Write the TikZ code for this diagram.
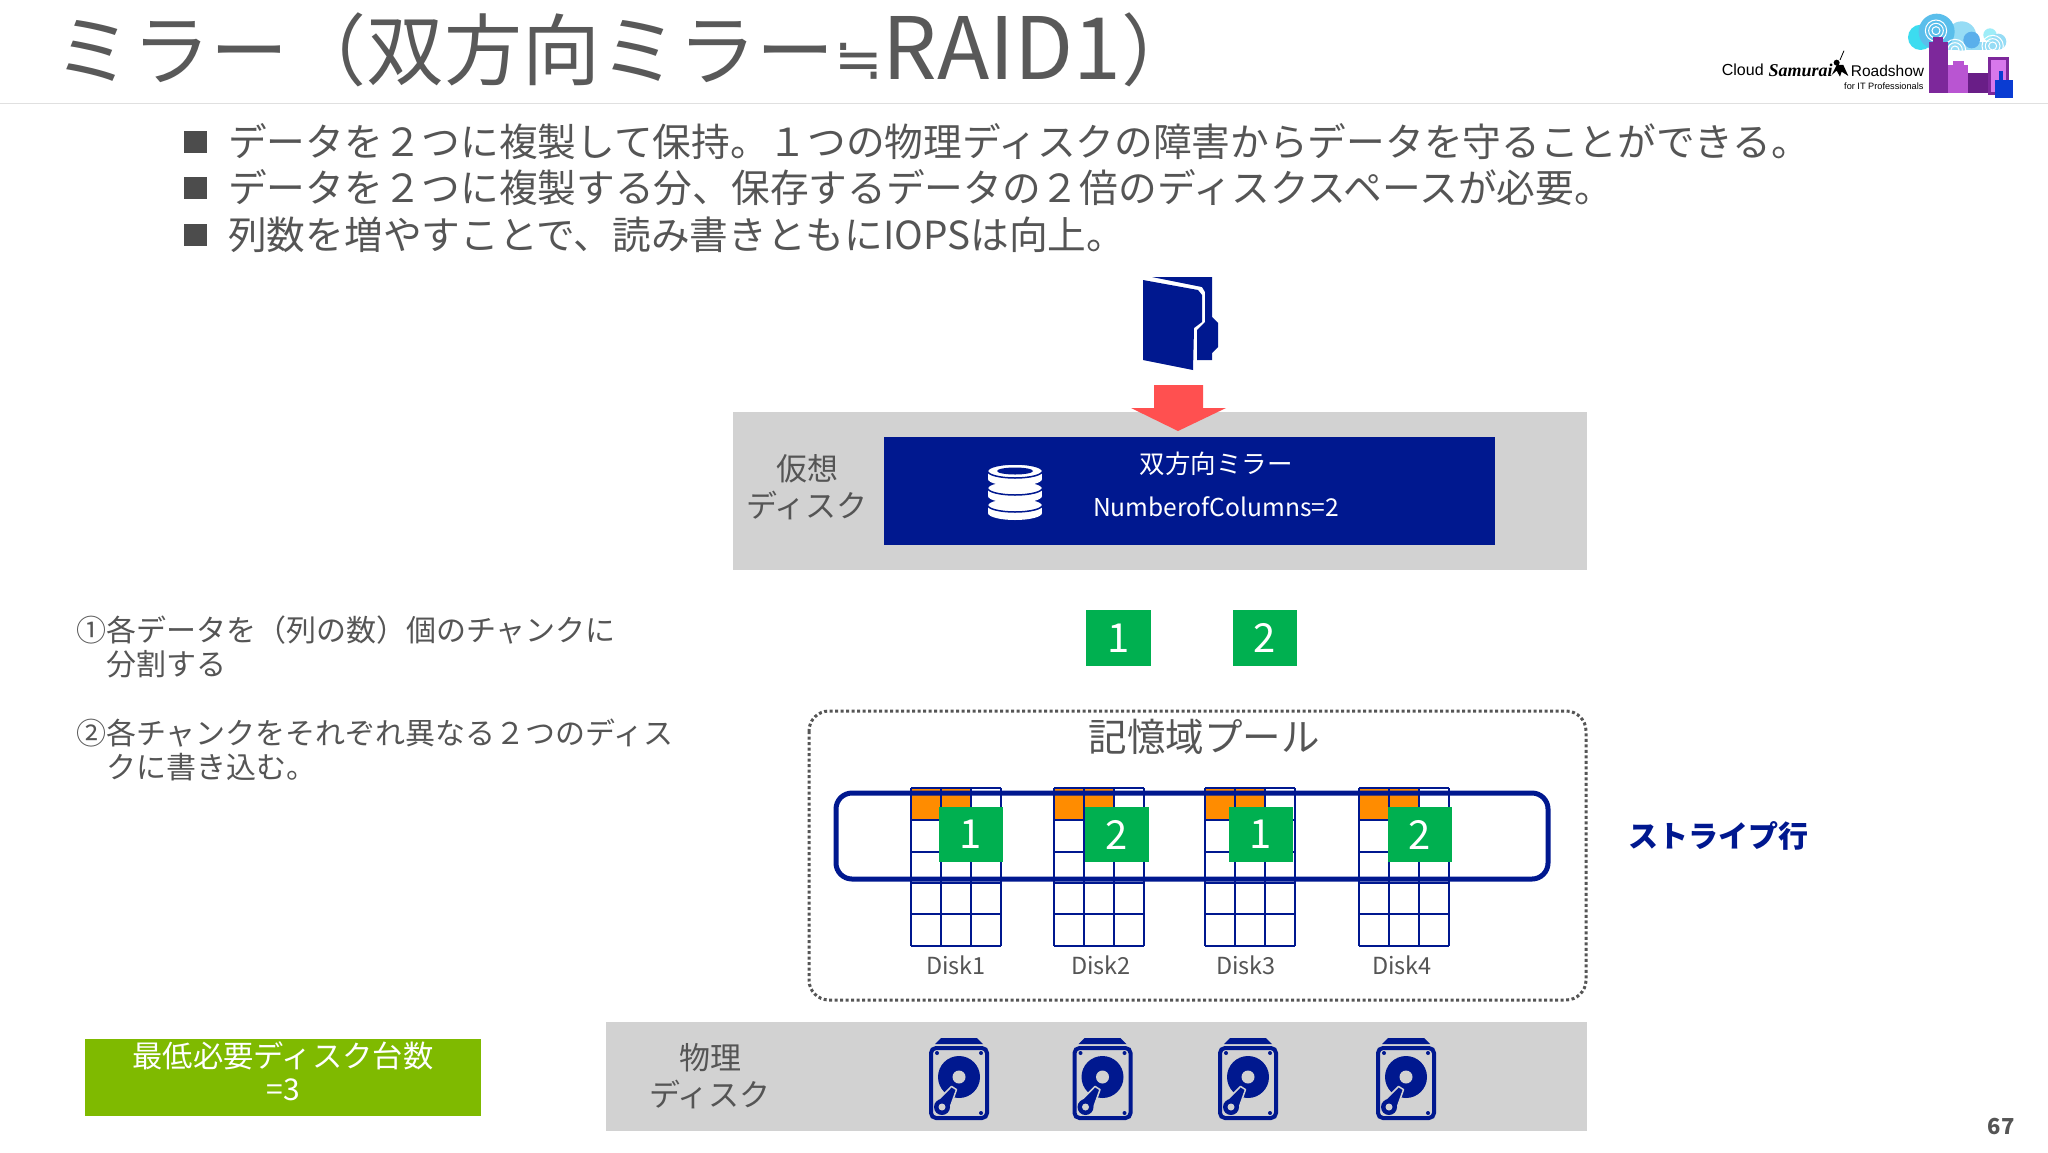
\documentclass[tikz,border=0pt]{standalone}
\usepackage{fontspec}
\usetikzlibrary{positioning}
\setmainfont{Noto Sans CJK JP}
\newfontfamily\latinfont{Liberation Sans}
\newfontfamily\brushfont{Liberation Serif}
\newfontfamily\symbolfont{DejaVu Sans}
\newcommand{\tamano}[1]{\fontsize{#1}{#1}\selectfont}
\definecolor{azulraid}{RGB}{0,24,143}
\definecolor{grisbanda}{RGB}{210,210,210}
\definecolor{tinta}{RGB}{85,85,85}
\definecolor{verdechunk}{RGB}{0,176,80}
\definecolor{verdecaja}{RGB}{127,186,0}
\definecolor{naranja}{RGB}{255,140,0}
\definecolor{rojoflecha}{RGB}{255,80,80}
\definecolor{nubecian}{RGB}{60,220,240}
\definecolor{nubeazul}{RGB}{90,190,235}
\definecolor{nubeclara}{RGB}{150,220,245}
\definecolor{nubemedia}{RGB}{90,175,235}
\definecolor{torre}{RGB}{125,40,155}
\definecolor{edificio}{RGB}{185,85,210}
\definecolor{bloque}{RGB}{105,30,135}
\definecolor{pantalla}{RGB}{215,120,235}
\definecolor{mano}{RGB}{10,60,210}
\tikzset{
	bullettext/.style={anchor=west, inner sep=0pt, tinta, font=\tamano{38.7}},
	notetext/.style={anchor=west, inner sep=0pt, tinta, font=\tamano{30}},
	bandtext/.style={inner sep=0pt, tinta, font=\tamano{31}},
	disklabel/.style={inner sep=0pt, tinta, font=\tamano{23.5}},
	chunk/.style={fill=verdechunk, text=white, inner sep=0pt, font=\tamano{40}},
	pics/hdd/.style={code={
		\fill [azulraid] (-18,-39) -- (18,-39) -- (24,-33) -- (-24,-33) -- cycle;
		\draw [azulraid, line width=4, rounded corners=5] (-28,-29) rectangle (28,41);
		\fill [azulraid] (0,0) circle [radius=21];
		\fill [grisbanda] (0,0) circle [radius=6.5];
		\fill [azulraid] (-22,-24) circle [radius=2];
		\fill [azulraid] (22,-24) circle [radius=2];
		\fill [azulraid] (22,36) circle [radius=2];
		\draw [grisbanda, fill=azulraid, line width=1.5, line join=round] (-7.5,9.4) -- (-2.5,12.6) -- (-10.2,34.2) -- (-23.8,25.8) -- cycle;
		\fill [azulraid] (-17,30) circle [radius=8];
		\fill [grisbanda] (-17,30) circle [radius=3.5];
	}},
}

\begin{document}
\begin{tikzpicture}[x=1pt, y=-1pt]
	\useasboundingbox (0,0) rectangle (2048,1152);
	\fill [white] (0,0) rectangle (2048,1152);

	% header
	\node [anchor=west, inner sep=0pt, text={rgb,255:red,89;green,89;blue,89}, font=\tamano{78}] (title) at (54,50) {ミラー（双方向ミラー{\symbolfont\tamano{58}≒}{\tamano{86}RAID1}）};
	\draw [black!12, line width=1.5] (0,103.5) -- (2048,103.5);

	% logo
	\begin{scope}[shift={(1680,0)}, x=0.3333pt, y=-0.3333pt]
		\fill [nubecian] (722,112) circle [radius=38];
		\fill [nubeclara] (845,108) circle [radius=44];
		\fill [nubeclara] (800,125) rectangle (960,150);
		\fill [nubeazul] (770,95) circle [radius=54];
		\fill [nubemedia] (875,120) circle [radius=25];
		\fill [nubecian!50!white] (930,105) circle [radius=20];
		\fill [nubeclara] (955,125) circle [radius=24];
		\foreach \r in {12,22,32} {
			\draw [white, line width=1] (768,92) circle [radius=\r];
			\draw [white, line width=1] (825,150) circle [radius=\r];
			\draw [white, line width=1] (938,138) circle [radius=\r];
		}
		\fill [torre] (748,125) rectangle (803,280);
		\fill [torre] (760,110) rectangle (790,125);
		\fill [edificio] (805,195) rectangle (865,280);
		\fill [edificio] (818,182) rectangle (852,195);
		\fill [bloque] (865,218) rectangle (925,280);
		\draw [torre, fill=pantalla, line width=3] (929,177) rectangle (982,280);
		\fill [mano] (958,212) rectangle (970,295);
		\fill [mano] (945,240) rectangle (1000,295);
		\node [anchor=west, inner sep=0pt, black, font=\latinfont\tamano{16}] (logocloud) at (125,210) {Cloud};
		\node [anchor=west, inner sep=0pt, black, font=\brushfont\bfseries\itshape\tamano{18}] (logosamurai) at (265,210) {Samurai};
		\node [anchor=west, inner sep=0pt, black, font=\latinfont\tamano{15.5}] (logoroad) at (512,212) {Roadshow};
		\node [anchor=east, inner sep=0pt, black, font=\latinfont\tamano{9.2}] (logoit) at (731,258) {for IT Professionals};
		% figure
		\fill [black] (470,188) circle [radius=9];
		\fill [black] (455,225) -- (470,195) -- (490,195) -- (505,228) -- (485,215) -- (480,230) -- (470,212) -- cycle;
		\draw [black, line width=0.8] (480,180) -- (492,152);
	\end{scope}

	% bullets
	\foreach \y in {142,188,235} {
		\fill [black!70] (184,\y-11) rectangle (207,\y+11);
	}
	\node [bullettext] (line1) at (228,142) {データを２つに複製して保持。１つの物理ディスクの障害からデータを守ることができる。};
	\node [bullettext] (line2) at (228,188) {データを２つに複製する分、保存するデータの２倍のディスクスペースが必要。};
	\node [bullettext] (line3) at (228,235) {列数を増やすことで、読み書きともにIOPSは向上。};

	% folder
	\fill [azulraid] (1143,280) -- (1198,290) -- (1202,295) -- (1202,322) -- (1194,328) -- (1193,370) -- (1143,360) -- cycle;
	\fill [azulraid] (1152,277) -- (1212,277) -- (1212,317) -- (1218,323) -- (1218,347) -- (1212,353) -- (1212,360) -- (1197,360) -- (1197,330) -- (1205,322) -- (1205,292) -- (1202,287) -- cycle;

	% virtual disk
	\fill [grisbanda] (733,412) rectangle (1587,570);
	\fill [azulraid] (884,437) rectangle (1495,545);
	\fill [rojoflecha] (1154,385) -- (1203,385) -- (1203,408) -- (1226,408) -- (1178,431) -- (1131,408) -- (1154,408) -- cycle;
	\node [bandtext] (virt1) at (807,469) {仮想};
	\node [bandtext] (virt2) at (807,505) {ディスク};
	\node [inner sep=0pt, white, font=\tamano{25.5}] (mirror) at (1216,464) {双方向ミラー};
	\node [inner sep=0pt, white, font=\tamano{24.6}] (columns) at (1216,507) {NumberofColumns=2};
	% database icon
	\foreach \y in {498,481,464} {
		\fill [white] (1015,\y+15) ellipse [x radius=27, y radius=7];
		\fill [white] (988,\y+7) rectangle (1042,\y+15);
		\draw [azulraid, line width=1.5, fill=white] (1015,\y+7) ellipse [x radius=27.5, y radius=7];
	}
	\fill [azulraid] (1015,471) ellipse [x radius=18, y radius=3.5];

	% chunks
	\node [chunk, minimum width=65, minimum height=56] (chunkone) at (1118.5,638) {1};
	\node [chunk, minimum width=64, minimum height=56] (chunktwo) at (1265,638) {2};

	% notes
	\node [notetext] (note1) at (76,630) {①各データを（列の数）個のチャンクに};
	\node [notetext] (note1b) at (106,664) {分割する};
	\node [notetext] (note2) at (76,733) {②各チャンクをそれぞれ異なる２つのディス};
	\node [notetext] (note2b) at (106,767) {クに書き込む。};

	% pool
	\draw [tinta, line width=3, dash pattern=on 3pt off 2.5pt, rounded corners=20] (809,711) rectangle (1586,1000);
	\node [inner sep=0pt, tinta, font=\tamano{38.5}] (pool) at (1204,737) {記憶域プール};

	\foreach \x/\name/\cx/\num/\lx in {911/1/971/1/956, 1054/2/1117/2/1101, 1205/3/1261/1/1246, 1359/4/1420/2/1402} {
		\fill [naranja] (\x,788) rectangle (\x+60,820);
		\foreach \c in {0,30,60,90} {
			\draw [azulraid, line width=1.6] (\x+\c,788) -- (\x+\c,946);
		}
		\foreach \r in {788,820,852,883,914,946} {
			\draw [azulraid, line width=1.6] (\x,\r) -- (\x+90,\r);
		}
		\node [chunk, minimum width=64, minimum height=55] (disk\name chunk) at (\cx,834.5) {\num};
		\node [disklabel] (disk\name) at (\lx,965) {Disk\name};
	}
	\draw [azulraid, line width=5, rounded corners=16] (836,793) rectangle (1548,879);
	\node [anchor=west, inner sep=0pt, azulraid, font=\bfseries\tamano{30}] (stripe) at (1628,836) {ストライプ行};

	% physical disks
	\fill [grisbanda] (606,1022) rectangle (1587,1131);
	\node [bandtext] (phys1) at (710,1058) {物理};
	\node [bandtext] (phys2) at (710,1094) {ディスク};
	\foreach \x in {959,1102.5,1248,1406} {
		\pic at (\x,1077) {hdd};
	}

	% minimum box
	\fill [verdecaja] (85,1039) rectangle (481,1116);
	\node [inner sep=0pt, white, font=\tamano{30.3}] (minimo) at (283,1056) {最低必要ディスク台数};
	\node [inner sep=0pt, white, font=\tamano{30}] (minimob) at (283,1090) {=3};

	\node [inner sep=0pt, tinta, font=\bfseries\tamano{22}] (page) at (2001,1126) {67};
\end{tikzpicture}
\end{document}
